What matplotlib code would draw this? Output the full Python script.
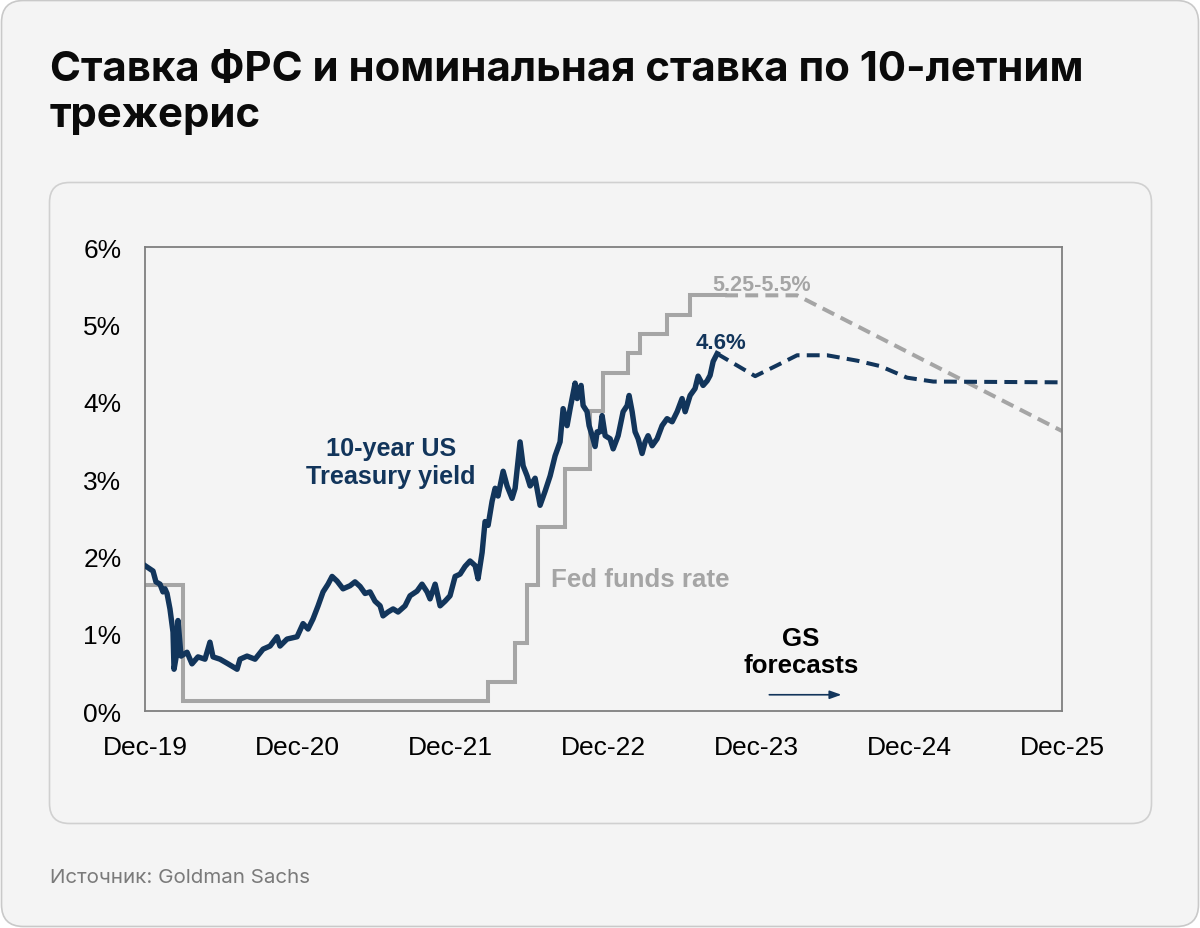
import matplotlib
matplotlib.use("Agg")
import matplotlib.pyplot as plt
from matplotlib.patches import FancyBboxPatch

# ---------------- data ----------------
# x: months since Dec-2019, y: percent
ust_months = [0.00, 0.63, 0.86, 1.18, 1.41, 1.57, 1.73, 1.96, 2.20, 2.28, 2.51, 2.59, 2.83, 3.30,
              3.69, 4.16, 4.71, 5.10, 5.34, 5.89, 6.52, 7.23, 7.46, 8.01, 8.64, 9.27, 9.82, 10.37,
              10.60, 11.15, 11.94, 12.41, 12.80, 13.19, 13.59, 13.98, 14.37, 14.69, 15.08, 15.55,
              16.10, 16.49, 16.89, 17.28, 17.67, 18.06, 18.46, 18.69, 19.08, 19.48, 19.87, 20.42,
              20.81, 21.36, 21.75, 22.15, 22.38, 22.78, 23.17, 23.56, 23.95, 24.35, 24.74, 25.13,
              25.52, 25.92, 26.15, 26.47, 26.70, 26.94, 27.25, 27.49, 27.72, 28.12, 28.43, 28.82,
              29.06, 29.45, 29.69, 30.00, 30.24, 30.63, 31.02, 31.41, 31.81, 32.20, 32.59, 32.83,
              33.14, 33.38, 33.77, 33.93, 34.24, 34.40, 34.71, 34.87, 35.11, 35.34, 35.50, 35.73,
              35.89, 36.13, 36.52, 36.76, 37.15, 37.54, 37.86, 38.01, 38.25, 38.48, 38.72, 39.03,
              39.27, 39.50, 39.82, 40.21, 40.60, 40.99, 41.39, 41.78, 42.17, 42.41, 42.80, 43.19,
              43.43, 43.82, 44.14, 44.37, 44.61, 44.92]
ust_yield = [1.88, 1.81, 1.67, 1.64, 1.54, 1.58, 1.52, 1.32, 1.02, 0.54, 0.76, 1.17, 0.71, 0.76,
             0.61, 0.70, 0.67, 0.89, 0.70, 0.67, 0.61, 0.54, 0.67, 0.71, 0.67, 0.80, 0.84, 0.96,
             0.84, 0.93, 0.96, 1.13, 1.06, 1.19, 1.36, 1.54, 1.64, 1.74, 1.68, 1.58,
             1.62, 1.67, 1.61, 1.52, 1.54, 1.42, 1.36, 1.23, 1.28, 1.32, 1.28, 1.36,
             1.49, 1.55, 1.64, 1.54, 1.45, 1.64, 1.36, 1.42, 1.49, 1.74, 1.77, 1.87,
             1.94, 1.88, 1.71, 2.05, 2.45, 2.40, 2.71, 2.88, 2.78, 3.10, 2.91, 2.75,
             2.88, 3.48, 3.17, 3.04, 2.91, 3.01, 2.66, 2.84, 3.04, 3.30, 3.48, 3.91,
             3.69, 3.91, 4.24, 4.04, 4.21, 3.95, 3.87, 3.69, 3.56, 3.42, 3.61, 3.61,
             3.82, 3.56, 3.52, 3.39, 3.56, 3.87, 3.95, 4.08, 3.87, 3.61, 3.52, 3.33,
             3.48, 3.56, 3.43, 3.52, 3.69, 3.78, 3.74, 3.87, 4.04, 3.87, 4.08, 4.17,
             4.33, 4.21, 4.27, 4.34, 4.52, 4.62]

ust_fc_months = [44.92, 47.91, 49.63, 51.20, 53.56, 55.92, 57.72, 59.84, 61.89, 72.0]
ust_fc_yield = [4.62, 4.33, 4.47, 4.60, 4.60, 4.53, 4.46, 4.31, 4.26, 4.25]

fed_months = [0.0, 2.98, 26.94, 29.06, 30.00, 30.87, 32.98, 34.95, 35.97, 37.93, 38.87, 40.99, 42.80, 45.55]
fed_rate = [1.625, 0.125, 0.375, 0.875, 1.625, 2.375, 3.125, 3.875, 4.375, 4.625, 4.875, 5.125, 5.375, 5.375]

fed_fc_months = [45.55, 51.20, 72.0]
fed_fc_rate = [5.375, 5.375, 3.62]

x_ticks = [0, 12, 24, 36, 48, 60, 72]
x_labels = ["Dec-19", "Dec-20", "Dec-21", "Dec-22", "Dec-23", "Dec-24", "Dec-25"]
y_ticks = [0, 1, 2, 3, 4, 5, 6]
y_labels = ["0%", "1%", "2%", "3%", "4%", "5%", "6%"]

title = "Ставка ФРС и номинальная ставка по 10-летним\nтрежерис"
source = "Источник: Goldman Sachs"

# ---------------- style ----------------
BG = "#f4f4f4"
NAVY = "#12355b"
GRAY = "#a5a5a5"
W, H = 1200, 929

fig = plt.figure(figsize=(W / 100, H / 100), dpi=100)
fig.patch.set_facecolor("white")

bg = fig.add_axes([0, 0, 1, 1])
bg.set_xlim(0, W)
bg.set_ylim(H, 0)
bg.axis("off")
bg.add_patch(FancyBboxPatch((1.5, 1.5), W - 3, H - 3,
                            boxstyle="round,pad=0,rounding_size=22",
                            facecolor=BG, edgecolor="#c9c9c9", linewidth=1.2))
bg.add_patch(FancyBboxPatch((49.5, 183.5), 1102, 641,
                            boxstyle="round,pad=0,rounding_size=20",
                            facecolor=BG, edgecolor="#d0d0d0", linewidth=1.2))
bg.text(50, 93, title, fontsize=30.2, fontweight="bold", family=["Inter", "DejaVu Sans"],
        color="#0a0a0a", ha="left", va="center", linespacing=1.25)
bg.text(50, 878, source, fontsize=14.8, family=["Inter", "DejaVu Sans"],
        color="#7a7a7a", ha="left", va="center")

ax = fig.add_axes([145 / W, 1 - 712 / H, (1062 - 145) / W, (712 - 248) / H])
ax.set_facecolor(BG)
ax.set_xlim(0, 72)
ax.set_ylim(0, 6)
for s in ax.spines.values():
    s.set_color("#7f7f7f")
    s.set_linewidth(1.3)
ax.set_xticks(x_ticks)
ax.set_xticklabels(x_labels)
ax.set_yticks(y_ticks)
ax.set_yticklabels(y_labels)
ax.tick_params(length=0, labelsize=19, colors="#000000", pad=17)
for lab in ax.get_xticklabels() + ax.get_yticklabels():
    lab.set_family("Liberation Sans")

ax.step(fed_months, fed_rate, where="post", color=GRAY, lw=2.9, solid_joinstyle="miter", zorder=2)
ax.plot(fed_fc_months, fed_fc_rate, color=GRAY, lw=2.9, dashes=(3.2, 1.8), zorder=2)
ax.plot(ust_months, ust_yield, color=NAVY, lw=3.9, solid_joinstyle="round", zorder=3)
ax.plot(ust_fc_months, ust_fc_yield, color=NAVY, lw=2.9, dashes=(3.2, 1.8), zorder=3)

lbl = dict(family="Liberation Sans", fontweight="bold")
ax.text(19.3, 3.22, "10-year US\nTreasury yield", color=NAVY, fontsize=18.2, ha="center", va="center",
        linespacing=1.25, **lbl)
ax.text(31.9, 1.71, "Fed funds rate", color=GRAY, fontsize=18.6, ha="left", va="center", **lbl)
ax.text(48.4, 5.52, "5.25-5.5%", color=GRAY, fontsize=15.5, ha="center", va="center", **lbl)
ax.text(45.2, 4.76, "4.6%", color=NAVY, fontsize=16, ha="center", va="center", **lbl)
ax.text(51.5, 0.77, "GS\nforecasts", color="#000000", fontsize=18.6, ha="center", va="center",
        linespacing=1.15, **lbl)
ax.annotate("", xy=(54.9, 0.21), xytext=(48.8, 0.21),
            arrowprops=dict(arrowstyle="-|>,head_length=0.7,head_width=0.25", color=NAVY, lw=1.2))

fig.savefig("out.png", dpi=100, facecolor=fig.get_facecolor())
